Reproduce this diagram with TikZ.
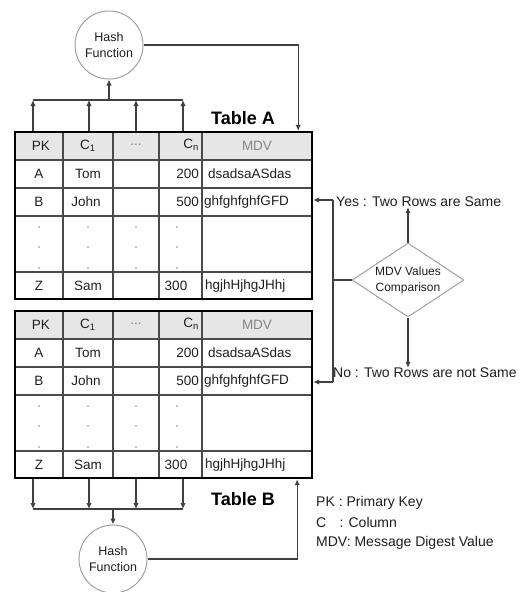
\documentclass[tikz,border=0pt]{standalone}
\usepackage{fontspec}
\setmainfont{Liberation Sans}
\usetikzlibrary{shapes.geometric,arrows.meta}
\definecolor{linec}{HTML}{404040}
\definecolor{gridc}{HTML}{4A4A4A}
\definecolor{hdrc}{HTML}{E6E6E6}
\definecolor{txtc}{HTML}{1E1E1E}
\definecolor{softc}{HTML}{858585}
\definecolor{shapec}{HTML}{A0A0A0}
\newcommand\fsz[2]{\fontsize{#1pt}{#2pt}\selectfont}
\tikzset{
  conn/.style={draw=linec, line width=1.2pt},
  arr/.style={conn, -{Latex[length=6pt,width=5.5pt]}},
  gridline/.style={draw=gridc, line width=1.4pt},
  cell/.style={inner sep=0pt, text=txtc, font=\fsz{13.5}{15}},
  softcell/.style={cell, text=softc},
  frame/.style={draw=black, line width=2.4pt, rectangle, inner sep=0pt,
                minimum width=297pt, minimum height=167pt},
  hashnode/.style={circle, draw=shapec, line width=1pt, minimum size=68pt,
                   align=center, inner sep=0pt, text=txtc, font=\fsz{12.5}{16}},
  lbl/.style={inner sep=0pt, anchor=west, text=txtc, font=\fsz{14}{16}},
  ttl/.style={inner sep=0pt, text=black, font=\fsz{18}{20}\bfseries},
}
\newcommand\drawdbtable[2]{%
\begin{scope}[shift={(0,#2)}]
  \fill[hdrc] (15,0) rectangle (312,28);
  \foreach \yy in {28,56,84,140} \draw[gridline] (15,\yy) -- (312,\yy);
  \foreach \xx in {63,113,159,202} \draw[gridline] (\xx,0) -- (\xx,167);
  \node[cell] (#1h1) at (41,14) {PK};
  \node[cell] (#1h2) at (88,14) {C\textsubscript{1}};
  \node[softcell] (#1h3) at (136,13) {...};
  \node[cell, anchor=east] (#1h4) at (199,13) {C\textsubscript{n}};
  \node[softcell] (#1h5) at (257,14) {MDV};
  \node[cell] (#1a1) at (39,42) {A};
  \node[cell] (#1a2) at (88,42) {Tom};
  \node[cell, anchor=east] (#1a4) at (199,42) {200};
  \node[cell, anchor=west] (#1a5) at (208,42) {dsadsaASdas};
  \node[cell] (#1b1) at (39,70) {B};
  \node[cell] (#1b2) at (86,70) {John};
  \node[cell, anchor=east] (#1b4) at (199,70) {500};
  \node[cell, anchor=west] (#1b5) at (204,70) {ghfghfghfGFD};
  \foreach \xx in {39,88,136,177} \foreach \yy in {95,115,136}
    \fill[softc] (\xx,\yy) circle (0.9pt);
  \node[cell] (#1z1) at (39,154) {Z};
  \node[cell] (#1z2) at (88,154) {Sam};
  \node[cell] (#1z4) at (176,154) {300};
  \node[cell, anchor=west] (#1z5) at (205,154) {hgjhHjhgJHhj};
  \node[frame] (#1) at (163.5,83.5) {};
\end{scope}}

\begin{document}
\begin{tikzpicture}[x=1pt,y=-1pt]
\useasboundingbox (0,0) rectangle (521,592);

\drawdbtable{tA}{132}
\drawdbtable{tB}{311}

\node[ttl] (ttlA) at (243,118) {Table A};
\node[ttl] (ttlB) at (243,499) {Table B};

% hash A
\node[hashnode] (hA) at (109,45) {Hash\\Function};
\foreach \xx [count=\i] in {33,89,136,183} \coordinate (ba\i) at (\xx,100);
\foreach \i in {1,...,4} \draw[arr] (tA.north -| ba\i) -- (ba\i);
\draw[conn] (ba1) -- (ba4);
\coordinate (bam) at (109,100);
\draw[arr] (bam) -- (hA.south);
\draw[arr] (hA.east) -| ([xshift=-15pt]tA.north east);

% hash B
\node[hashnode] (hB) at (113,559) {Hash\\Function};
\foreach \xx [count=\i] in {33,89,136,183} \coordinate (bb\i) at (\xx,509);
\foreach \i in {1,...,4} \draw[arr] (tB.south -| bb\i) -- (bb\i);
\draw[conn] (bb1) -- (bb4);
\coordinate (bbm) at (113,509);
\draw[arr] (bbm) -- (hB.north);
\draw[arr] (hB.east) -| ([xshift=-16pt]tB.south east);

% comparison
\node[diamond, aspect=1.5, draw=shapec, line width=1pt, minimum width=112pt, minimum height=74pt,
      inner sep=0pt, align=center, text=txtc, font=\fsz{12}{16}] (cmp) at (408,280) {MDV Values\\Comparison};
\node[lbl] (yes) at (336,202) {Yes : Two Rows are Same};
\node[lbl] (no) at (333,373) {No : Two Rows are not Same};
\draw[arr] (cmp.north) -- (cmp.north |- yes.south);
\draw[arr] (cmp.south) -- (cmp.south |- no.north);
\coordinate (jt) at (333,200);
\coordinate (jb) at (333,382);
\draw[conn] (jt) -- (jb);
\draw[conn] (cmp.west) -- (cmp.west -| jt);
\draw[arr] (jt) -- (jt -| tA.east);
\draw[arr] (jb) -- (jb -| tB.east);

% legend
\node[lbl] (lg1) at (316,503) {PK : Primary Key};
\node[lbl] (lg2) at (316,522) {C\hphantom{K} : Column};
\node[lbl] (lg3) at (316,543) {MDV: Message Digest Value};
\end{tikzpicture}
\end{document}
